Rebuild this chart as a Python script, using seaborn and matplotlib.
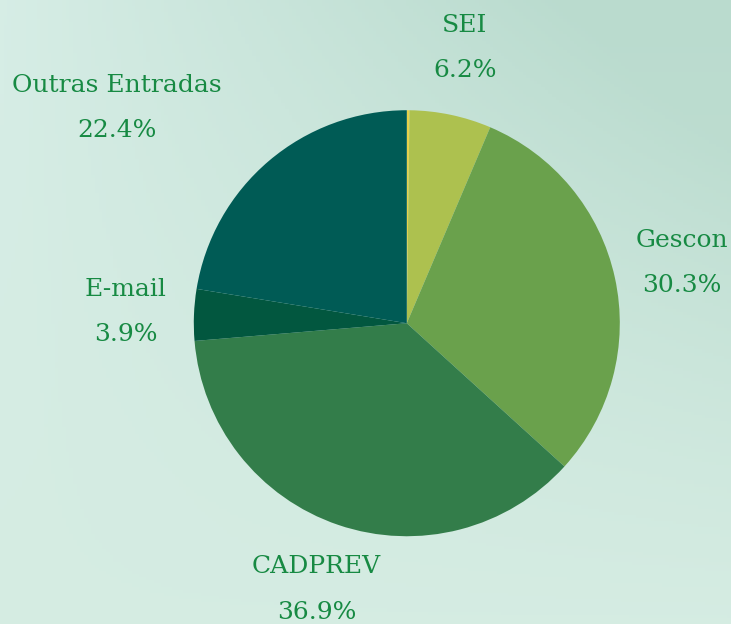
import numpy as np
import matplotlib
matplotlib.use("Agg")
import matplotlib.pyplot as plt
import seaborn as sns

# slices clockwise from 12 o'clock (first one is the thin unlabeled yellow sliver)
categories = ["", "SEI", "Gescon", "CADPREV", "E-mail", "Outras Entradas"]
shares = [0.2, 6.2, 30.3, 36.9, 3.9, 22.4]
pct_labels = ["", "6.2%", "30.3%", "36.9%", "3.9%", "22.4%"]
slice_colors = ["#e6d14a", "#adc14f", "#6aa14c", "#337d4a", "#02573f", "#005b55"]

sns.set_theme(style="white")
plt.rcParams["font.family"] = ["DejaVu Serif", "DejaVu Sans"]
text_color = "#178a43"

fig = plt.figure(figsize=(7.31, 6.24), dpi=100)

# soft mint background gradient
bg = fig.add_axes([0, 0, 1, 1])
yy, xx = np.mgrid[0:1:200j, 0:1:200j]
c_tl = np.array([0.84, 0.93, 0.90])
c_tr = np.array([0.73, 0.86, 0.81])
c_b = np.array([0.83, 0.92, 0.87])
w_tr = np.clip(xx * (1 - yy) * 1.3, 0, 1)[..., None]
img = c_tl * (1 - w_tr) + c_tr * w_tr
img = img * (1 - yy[..., None] * 0.4) + c_b * yy[..., None] * 0.4
bg.imshow(img, extent=[0, 1, 0, 1], aspect="auto", origin="upper")
bg.axis("off")

ax = fig.add_axes([0.134, -0.013, 0.845, 0.990])
wedges, texts = ax.pie(
    shares,
    colors=sns.color_palette(slice_colors),
    startangle=90,
    counterclock=False,
    labels=[f"{c}\n{p}" if c else "" for c, p in zip(categories, pct_labels)],
    labeldistance=1.32,
    radius=1.0,
    wedgeprops=dict(linewidth=0),
    textprops=dict(color=text_color, fontsize=18, linespacing=2.25),
)
for t in texts:
    t.set_ha("center")
    t.set_va("center")
# the Outras Entradas label sits further out, up and to the left
texts[5].set_position((-1.36, 1.01))
ax.set_xlim(-1.45, 1.45)
ax.set_ylim(-1.45, 1.45)
ax.set_aspect("equal")
ax.axis("off")

fig.savefig("out.png", dpi=100)
